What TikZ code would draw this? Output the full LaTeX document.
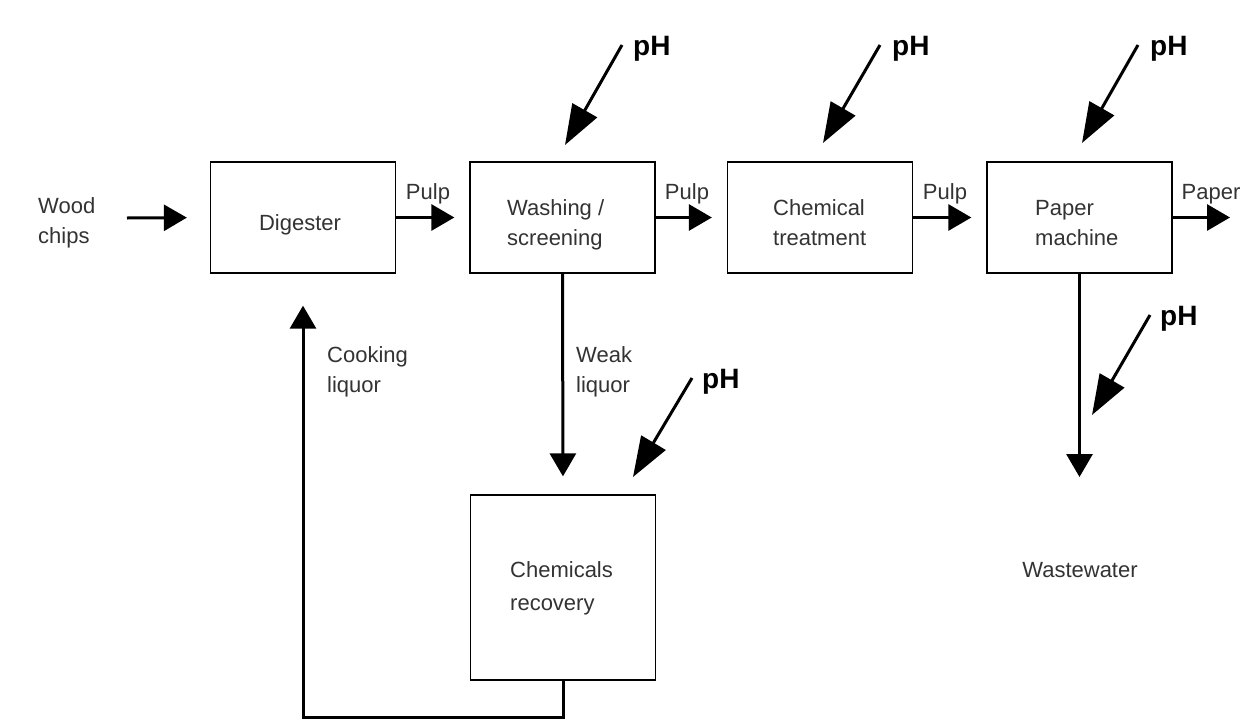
\documentclass[tikz,border=0pt]{standalone}
\usepackage{fontspec}
\setmainfont{Liberation Sans}
\usetikzlibrary{arrows.meta}
\definecolor{txt}{HTML}{333333}
\newcommand{\twoline}[2]{\begin{tabular}[t]{@{}l@{}}#1\\#2\end{tabular}}
\begin{document}
\begin{tikzpicture}[x=1pt,y=-1pt,
  box/.style={draw,line width=1.3pt,minimum width=185pt,minimum height=111pt,inner sep=0pt},
  lbl/.style={font=\fontsize{22}{30}\selectfont,text=txt,inner sep=0pt,anchor=base west},
  phlbl/.style={font=\bfseries\fontsize{28}{30}\selectfont,inner sep=0pt,anchor=base west},
  arr/.style={line width=3pt,-{Triangle[length=23pt,width=26pt]}},
  pharr/.style={line width=3pt,-{Triangle[length=40pt,width=28pt]}}]
\useasboundingbox (0,0) rectangle (1248,723);
\fill[white] (0,0) rectangle (1248,723);

% boxes
\node[box] (dig) at (303,217.5) {};
\node[box] (wash) at (562.5,217.5) {};
\node[box] (chem) at (820,217.5) {};
\node[box] (pap) at (1079.5,217.5) {};
\node[box,minimum height=185pt] (rec) at (563,587.5) {};

% texts
\node[lbl] (woodT) at (38,213) {\twoline{Wood}{chips}};
\node[lbl,anchor=base] (digT) at (300,230) {Digester};
\node[lbl] (washT) at (507,215) {\twoline{Washing /}{screening}};
\node[lbl] (chemT) at (773,215) {\twoline{Chemical}{treatment}};
\node[lbl] (papT) at (1035,215) {\twoline{Paper}{machine}};
\node[lbl,font=\fontsize{22}{33}\selectfont] (recT) at (510,577) {\twoline{Chemicals}{recovery}};
\node[lbl] (cookT) at (327,362) {\twoline{Cooking}{liquor}};
\node[lbl] (weakT) at (576,362) {\twoline{Weak}{liquor}};
\node[lbl,anchor=base] (pulp1) at (428,199) {Pulp};
\node[lbl,anchor=base] (pulp2) at (687,199) {Pulp};
\node[lbl,anchor=base] (pulp3) at (945,199) {Pulp};
\node[lbl,anchor=base] (paperT) at (1211,199) {Paper};
\node[lbl,anchor=base] (wwT) at (1080,577) {Wastewater};

% pH labels
\node[phlbl] (ph1) at (633,55) {pH};
\node[phlbl] (ph2) at (892,55) {pH};
\node[phlbl] (ph3) at (1150,55) {pH};
\node[phlbl] (ph4) at (702,388) {pH};
\node[phlbl] (ph5) at (1160,325) {pH};

% coordinates
\coordinate (woodS) at (127,218);
\coordinate (paperOut) at (1230,217.5);
\coordinate (wwTip) at (1079.5,477);
\coordinate (s1) at (622,45);   \coordinate (t1) at (565,145);
\coordinate (s2) at (880,45);   \coordinate (t2) at (823,143);
\coordinate (s3) at (1138,45);  \coordinate (t3) at (1082,143);
\coordinate (s4) at (692,378);  \coordinate (t4) at (633,477);
\coordinate (s5) at (1150,315); \coordinate (t5) at (1092,415);

% flow arrows
\draw[arr,shorten >=23pt] (woodS) -- (dig.west);
\draw[arr,shorten >=15pt] (dig.east) -- (wash.west);
\draw[arr,shorten >=15pt] (wash.east) -- (chem.west);
\draw[arr,shorten >=15pt] (chem.east) -- (pap.west);
\draw[arr] (pap.east) -- (paperOut);
\draw[arr,shorten >=18pt] (wash.south) -- (rec.north);
\draw[arr] (pap.south) -- (wwTip);
\draw[arr,shorten >=32pt] (rec.south) -- ++(0,37) -| (dig.south);

% pH arrows
\draw[pharr] (s1) -- (t1);
\draw[pharr] (s2) -- (t2);
\draw[pharr] (s3) -- (t3);
\draw[pharr] (s4) -- (t4);
\draw[pharr] (s5) -- (t5);
\end{tikzpicture}
\end{document}
